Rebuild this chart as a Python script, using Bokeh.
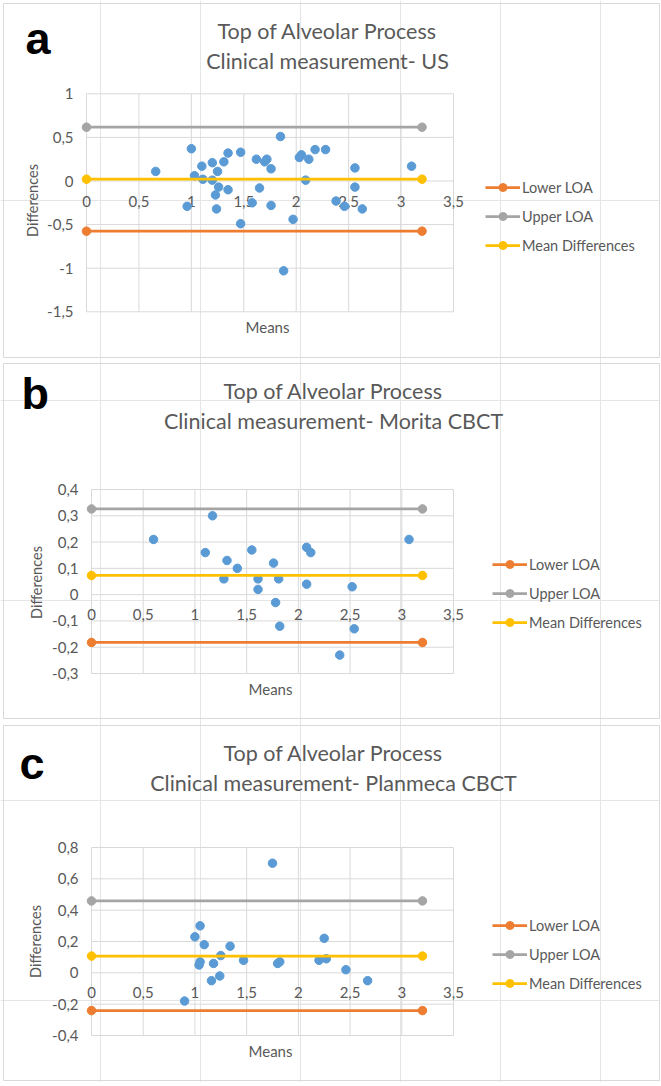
from bokeh.plotting import figure
from bokeh.models import Label, Legend, LegendItem, Range1d
from bokeh.embed import file_html
from bokeh.resources import INLINE

# ---------------- data ----------------
title_line1 = "Top of Alveolar Process"
subtitles = ["Clinical measurement- US",
             "Clinical measurement- Morita CBCT",
             "Clinical measurement- Planmeca CBCT"]
panel_letters = ["a", "b", "c"]
legend_labels = ["Lower LOA", "Upper LOA", "Mean Differences"]
x_title = "Means"
y_title = "Differences"

x_ticks = [0, 0.5, 1, 1.5, 2, 2.5, 3, 3.5]
x_tick_labels = ["0", "0,5", "1", "1,5", "2", "2,5", "3", "3,5"]
loa_x = [0, 3.2]

# panel a : Clinical - US
a_means = [0.66, 1.00, 0.96, 1.03, 1.10, 1.11, 1.20, 1.20, 1.25, 1.23, 1.26, 1.24,
           1.31, 1.35, 1.35, 1.47, 1.47, 1.58, 1.62, 1.65, 1.70, 1.72, 1.76, 1.76,
           1.85, 1.88, 1.97, 2.03, 2.05, 2.09, 2.12, 2.18, 2.28, 2.38, 2.46, 2.56,
           2.56, 2.63, 3.10]
a_diffs = [0.11, 0.37, -0.29, 0.06, 0.17, 0.02, 0.21, 0.01, 0.11, -0.16, -0.07, -0.32,
           0.22, 0.32, -0.10, 0.33, -0.49, -0.25, 0.25, -0.08, 0.22, 0.25, 0.14, -0.28,
           0.51, -1.03, -0.44, 0.27, 0.30, 0.01, 0.25, 0.36, 0.36, -0.23, -0.29, 0.15,
           -0.07, -0.32, 0.17]
a_lower, a_upper, a_mean = -0.575, 0.617, 0.021
a_y_ticks = [-1.5, -1, -0.5, 0, 0.5, 1]
a_y_tick_labels = ["-1,5", "-1", "-0,5", "0", "0,5", "1"]

# panel b : Clinical - Morita CBCT
b_means = [0.60, 1.17, 1.10, 1.31, 1.28, 1.41, 1.55, 1.61, 1.61, 1.76, 1.78, 1.81,
           1.82, 2.08, 2.12, 2.08, 2.40, 2.52, 2.54, 3.07]
b_diffs = [0.21, 0.30, 0.16, 0.13, 0.06, 0.10, 0.17, 0.06, 0.02, 0.12, -0.03, 0.06,
           -0.12, 0.18, 0.16, 0.04, -0.23, 0.03, -0.13, 0.21]
b_lower, b_upper, b_mean = -0.182, 0.326, 0.073
b_y_ticks = [-0.3, -0.2, -0.1, 0, 0.1, 0.2, 0.3, 0.4]
b_y_tick_labels = ["-0,3", "-0,2", "-0,1", "0", "0,1", "0,2", "0,3", "0,4"]

# panel c : Clinical - Planmeca CBCT
c_means = [1.75, 1.05, 1.00, 1.09, 1.34, 1.25, 1.05, 1.04, 1.18, 1.47, 1.24, 1.16,
           0.90, 1.80, 1.82, 2.25, 2.20, 2.27, 2.46, 2.67]
c_diffs = [0.70, 0.30, 0.23, 0.18, 0.17, 0.11, 0.07, 0.05, 0.06, 0.08, -0.02, -0.05,
           -0.18, 0.06, 0.07, 0.22, 0.08, 0.09, 0.02, -0.05]
c_lower, c_upper, c_mean = -0.241, 0.459, 0.107
c_y_ticks = [-0.4, -0.2, 0, 0.2, 0.4, 0.6, 0.8]
c_y_tick_labels = ["-0,4", "-0,2", "0", "0,2", "0,4", "0,6", "0,8"]

# ---------------- style / layout ----------------
FONT = "Lato"
TXT = "#595959"
GRID = "#d9d9d9"
BLUE = "#5b9bd5"
ORANGE = "#ed7d31"
GREY = "#a5a5a5"
YELLOW = "#ffc000"

W, H = 660, 1082   # page-sized canvas; the plot frame covers all of it

p = figure(width=W, height=H, output_backend="svg", toolbar_location=None, title=None,
           x_range=Range1d(0, W), y_range=Range1d(H, 0),
           x_axis_location=None, y_axis_location=None, min_border=0,
           background_fill_color="white", border_fill_color="white",
           outline_line_color=None)

panels = [
    dict(name="a", letter=panel_letters[0], sub=subtitles[0], xs=a_means, ys=a_diffs,
         loa=(a_lower, a_upper, a_mean), yt=a_y_ticks, ytl=a_y_tick_labels,
         fl=86, fr=453, ft=93.3, fb=311.3, box=(3, 659, 3, 357), tcx=327, tm=30,
         let=(25, 38), ylab=(32, 200), xlab=(267, 326), leg=(485, 177)),
    dict(name="b", letter=panel_letters[1], sub=subtitles[1], xs=b_means, ys=b_diffs,
         loa=(b_lower, b_upper, b_mean), yt=b_y_ticks, ytl=b_y_tick_labels,
         fl=91, fr=453, ft=489, fb=673, box=(3, 659, 363, 718), tcx=333, tm=390,
         let=(21, 393), ylab=(36, 582), xlab=(270, 688), leg=(492, 554)),
    dict(name="c", letter=panel_letters[2], sub=subtitles[2], xs=c_means, ys=c_diffs,
         loa=(c_lower, c_upper, c_mean), yt=c_y_ticks, ytl=c_y_tick_labels,
         fl=91, fr=453, ft=847, fb=1035, box=(3, 659, 725, 1080), tcx=333, tm=752,
         let=(19, 763), ylab=(35, 941), xlab=(270, 1050), leg=(492, 915)),
]

for d in panels:
    n = d["name"]
    # panel border
    l, r, t, b = d["box"]
    p.quad(left=[l], right=[r], top=[t], bottom=[b], fill_color=None,
           line_color=GRID, line_width=1)

    # ranges placing the panel's plot area on the page
    x0, x1 = x_ticks[0], x_ticks[-1]
    y0, y1 = d["yt"][0], d["yt"][-1]
    kx = (x1 - x0) / (d["fr"] - d["fl"])
    ky = (y1 - y0) / (d["fb"] - d["ft"])
    xs_start = x0 - d["fl"] * kx
    ys_start = y0 - (H - d["fb"]) * ky
    p.extra_x_ranges[n] = Range1d(xs_start, xs_start + W * kx)
    p.extra_y_ranges[n] = Range1d(ys_start, ys_start + H * ky)
    kw = dict(x_range_name=n, y_range_name=n)

    # gridlines from the tick lists
    p.segment(x0=x_ticks, y0=[y0] * len(x_ticks), x1=x_ticks, y1=[y1] * len(x_ticks),
              line_color=GRID, line_width=1, **kw)
    p.segment(x0=[x0] * len(d["yt"]), y0=d["yt"], x1=[x1] * len(d["yt"]), y1=d["yt"],
              line_color=GRID, line_width=1, **kw)

    # tick labels (x axis crosses at 0)
    p.text(x=x_ticks, y=[0] * len(x_ticks), text=x_tick_labels, y_offset=20,
           text_align="center", text_baseline="middle", text_font_size="15px",
           text_font={"value": FONT}, text_color=TXT, **kw)
    p.text(x=[x0] * len(d["yt"]), y=d["yt"], text=d["ytl"], x_offset=-13,
           text_align="right", text_baseline="middle", text_font_size="15px",
           text_font={"value": FONT}, text_color=TXT, **kw)

    # data
    p.scatter(d["xs"], d["ys"], size=8.5, fill_color=BLUE, line_color=BLUE, **kw)

    items = []
    for lab, val, col in zip(legend_labels, d["loa"], [ORANGE, GREY, YELLOW]):
        yy = [val] * len(loa_x)
        r1 = p.line(loa_x, yy, line_color=col, line_width=2.75, **kw)
        r2 = p.scatter(loa_x, yy, size=8.5, fill_color=col, line_color=col, **kw)
        items.append(LegendItem(label=lab, renderers=[r1, r2]))

    leg_h = 3 * 20 + 2 * 9
    leg = Legend(items=items, location=(d["leg"][0], H - (d["leg"][1] + leg_h)),
                 orientation="vertical", glyph_width=35, glyph_height=20,
                 label_height=20, spacing=9, padding=0, margin=0, label_standoff=2,
                 label_text_font=FONT, label_text_font_size="14.5px",
                 label_text_color=TXT, border_line_color=None,
                 background_fill_alpha=0)
    p.add_layout(leg)

    # texts
    p.add_layout(Label(x=d["tcx"], y=d["tm"], text=title_line1, text_font=FONT,
                       text_font_size="21.5px", text_color=TXT, text_align="center",
                       text_baseline="middle"))
    p.add_layout(Label(x=d["tcx"], y=d["tm"] + 30, text=d["sub"], text_font=FONT,
                       text_font_size="21.5px", text_color=TXT, text_align="center",
                       text_baseline="middle"))
    p.add_layout(Label(x=d["let"][0], y=d["let"][1], text=d["letter"],
                       text_font="Liberation Sans", text_font_style="bold",
                       text_font_size="45px", text_color="black", text_align="left",
                       text_baseline="middle"))
    p.add_layout(Label(x=d["ylab"][0], y=d["ylab"][1], text=y_title, text_font=FONT,
                       text_font_size="14.5px", text_color=TXT, text_align="center",
                       text_baseline="middle", angle=90, angle_units="deg"))
    p.add_layout(Label(x=d["xlab"][0], y=d["xlab"][1], text=x_title, text_font=FONT,
                       text_font_size="15px", text_color=TXT, text_align="center",
                       text_baseline="middle"))

open("out.html", "w").write(file_html(p, INLINE))
